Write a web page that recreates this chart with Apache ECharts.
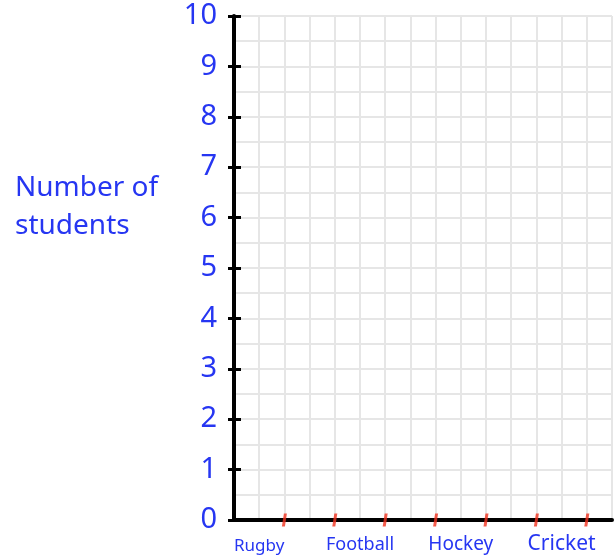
<!DOCTYPE html>
<html>
<head>
<meta charset="utf-8">
<script src="https://cdn.jsdelivr.net/npm/echarts@6/dist/echarts.min.js"></script>
<style>html,body{margin:0;padding:0;background:#fff}#c{width:616px;height:558px}</style>
</head>
<body>
<div id="c"></div>
<script>
const categories = ['Rugby', 'Football', 'Hockey', 'Cricket'];
const studentCounts = [null, null, null, null]; // blank chart: no bars drawn yet
const yTickValues = [0, 1, 2, 3, 4, 5, 6, 7, 8, 9, 10];
const yTitle = 'Number of\nstudents';

const BLUE = '#2636f2';
const FONT = '"Comic Sans MS", "Noto Sans", sans-serif';
const GRIDC = '#e6e6e6';

// Each category occupies 2 grid cells followed by a 2-cell gap
const centers = categories.map((c, i) => 4 * i + 1);
const edgeTicks = [];
categories.forEach((c, i) => { if (i > 0) edgeTicks.push(4 * i); edgeTicks.push(4 * i + 2); });

const richStyles = {};
const sizes = [17, 18, 19, 21];
const pads = [[4,0,0,0],[2,0,0,0],[1,0,0,0],[0,0,0,0]];
categories.forEach((c, i) => {
  richStyles['c' + i] = { fontSize: sizes[i], color: BLUE, fontFamily: FONT, padding: pads[i] };
});

const chart = echarts.init(document.getElementById('c'), null, { renderer: 'canvas' });
chart.setOption({
  animation: false,
  backgroundColor: '#fff',
  title: {
    text: yTitle, left: 10, top: 164,
    textStyle: { color: BLUE, fontFamily: FONT, fontSize: 28, fontWeight: 'normal', lineHeight: 38 }
  },
  grid: { left: 234, right: 4, top: 16, bottom: 38, containLabel: false },
  xAxis: {
    type: 'value', min: 0, max: 15, interval: 1,
    axisLine: { show: true, onZero: false, lineStyle: { color: '#000', width: 4 } },
    axisTick: { show: false },
    splitLine: { show: true, lineStyle: { color: GRIDC, width: 2 } },
    axisLabel: {
      margin: 14, showMinLabel: true, showMaxLabel: true, hideOverlap: false,
      formatter: v => { const i = centers.indexOf(v); return i >= 0 ? '{c' + i + '|' + categories[i] + '}' : ''; },
      rich: richStyles
    }
  },
  yAxis: [{
    type: 'value', min: yTickValues[0], max: yTickValues[yTickValues.length - 1], interval: 1,
    axisLine: { show: true, lineStyle: { color: '#000', width: 4 } },
    axisTick: { show: true, length: 6, lineStyle: { color: '#000', width: 3 } },
    axisLabel: { color: BLUE, fontFamily: FONT, fontSize: 29, margin: 17 },
    splitLine: { show: true, lineStyle: { color: GRIDC, width: 2 } },
    minorTick: { show: false, splitNumber: 2 },
    minorSplitLine: { show: true, lineStyle: { color: GRIDC, width: 2 } }
  }, {
    type: 'value', min: yTickValues[0], max: yTickValues[yTickValues.length - 1], interval: 1,
    position: 'left',
    axisLine: { show: false },
    axisTick: { show: true, inside: true, length: 7, lineStyle: { color: '#000', width: 3 } },
    axisLabel: { show: false },
    splitLine: { show: false }
  }],
  series: [{
    type: 'bar', yAxisIndex: 0, barWidth: 50,
    itemStyle: { color: BLUE },
    data: categories.map((c, i) => [centers[i], studentCounts[i]])
  }, {
    type: 'scatter', yAxisIndex: 0, silent: true, z: 10,
    symbol: 'path://M2,0 L5,0 L3,13 L0,13 Z', symbolSize: [5, 13],
    itemStyle: { color: '#f0321e' },
    data: edgeTicks.map(v => [v, 0])
  }]
});
</script>
</body>
</html>
